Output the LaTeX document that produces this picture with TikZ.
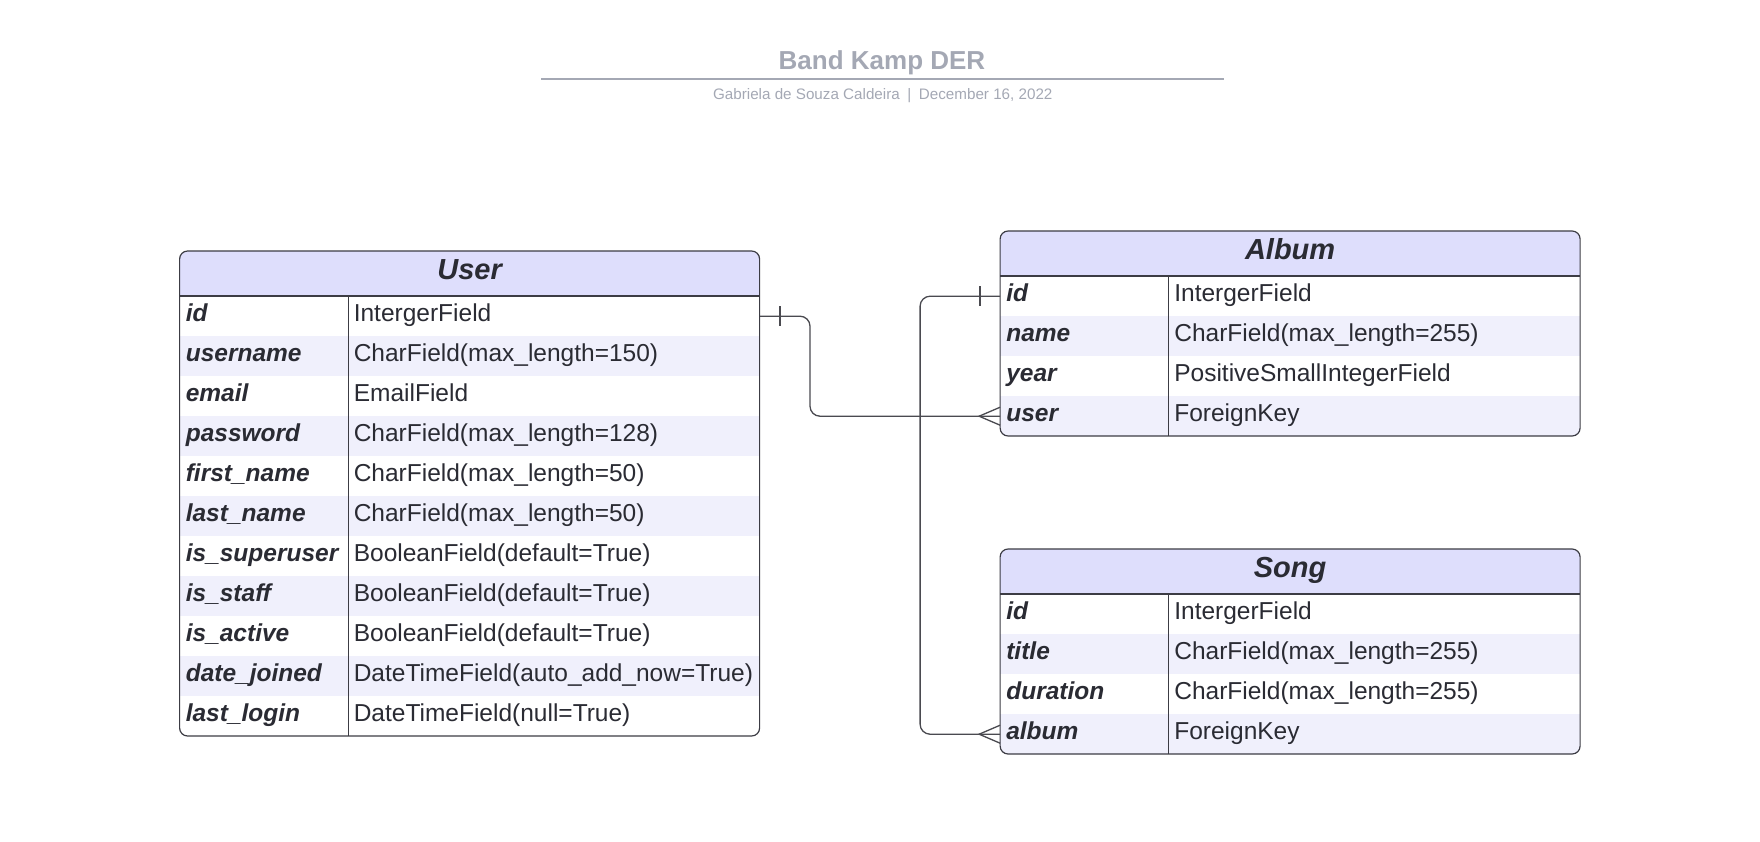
\documentclass[tikz,border=0pt]{standalone}
\usepackage{fontspec}
\setmainfont{Liberation Sans}
\definecolor{hdr}{HTML}{DEDEFC}
\definecolor{rowshade}{HTML}{F0F0FC}
\definecolor{bord}{HTML}{3C3C44}
\definecolor{txt}{HTML}{2A2B33}
\definecolor{ttl}{HTML}{A4A8B4}
\definecolor{connc}{HTML}{4A4A50}
\tikzset{
  fieldname/.style={anchor=base west, inner sep=0pt, font=\fontsize{24.5}{29}\selectfont\bfseries\itshape, text=txt},
  fieldtype/.style={anchor=base west, inner sep=0pt, font=\fontsize{24.5}{29}\selectfont, text=txt},
  tabletitle/.style={anchor=base, inner sep=0pt, font=\fontsize{29}{34}\selectfont\bfseries\itshape, text=txt},
  tableborder/.style={draw=bord, line width=1.2pt, rounded corners=8pt},
  tableline/.style={draw=bord, line width=1.2pt},
  rowbox/.style={inner sep=0pt, minimum width=580pt, minimum height=40pt, anchor=north west},
  connector/.style={draw=connc, line width=1.3pt, rounded corners=10pt},
  mark line/.style={draw=connc, line width=1.3pt},
}
\newcommand{\erdtable}[6]{%
  \pgfmathsetmacro{\tb}{#4+45+40*#5}
  \fill[white, rounded corners=8pt] (#3,#4) rectangle (#3+580,\tb);
  \begin{scope}
    \clip[rounded corners=8pt] (#3,#4) rectangle (#3+580,\tb);
    \fill[hdr] (#3,#4) rectangle (#3+580,#4+45);
    \foreach \a/\b [count=\i] in {#6} {
      \pgfmathsetmacro{\ry}{#4+45+40*(\i-1)}
      \ifodd\i\else \fill[rowshade] (#3,\ry) rectangle (#3+580,\ry+40); \fi
      \node[rowbox] (#1-\i) at (#3,\ry) {};
      \node[fieldname] at ([xshift=6pt,yshift=-5pt]#1-\i.west) {\a};
      \node[fieldtype] at ([xshift=174pt,yshift=-5pt]#1-\i.west) {\b};
    }
  \end{scope}
  \node[tabletitle] (#1) at (#3+290,#4+28.5) {#2};
  \draw[tableborder] (#3,#4) rectangle (#3+580,\tb);
  \draw[tableline] (#3,#4+45) -- (#3+580,#4+45);
  \draw[tableline] (#3+168.5,#4+45) -- (#3+168.5,\tb);
}
\begin{document}
\begin{tikzpicture}[x=1pt,y=-1pt]
\useasboundingbox (0,0) rectangle (1760,841);
\node[anchor=base, inner sep=0pt, font=\fontsize{26}{31}\selectfont\bfseries, text=ttl] (title) at (882,69) {Band Kamp DER};
\draw[draw=ttl, line width=2pt] (541,78.6) -- (1223.5,78.6);
\node[anchor=base, inner sep=0pt, font=\fontsize{15.2}{18}\selectfont, text=ttl] (subtitle) at (882.8,99.5) {Gabriela de Souza Caldeira\enspace|\enspace December 16, 2022};

\erdtable{user}{User}{179.6}{251}{11}{id/IntergerField, username/CharField(max\_length=150), email/EmailField, password/CharField(max\_length=128), first\_name/CharField(max\_length=50), last\_name/CharField(max\_length=50), is\_superuser/BooleanField(default=True), is\_staff/BooleanField(default=True), is\_active/BooleanField(default=True), date\_joined/DateTimeField(auto\_add\_now=True), last\_login/DateTimeField(null=True)}
\erdtable{album}{Album}{1000.1}{231}{4}{id/IntergerField, name/CharField(max\_length=255), year/PositiveSmallIntegerField, user/ForeignKey}
\erdtable{song}{Song}{1000.1}{549}{4}{id/IntergerField, title/CharField(max\_length=255), duration/CharField(max\_length=255), album/ForeignKey}

% User (one) -> Album (many)
\draw[connector] (user-1.east) -- ++(50,0) |- (album-4.west);
\draw[mark line] ([xshift=20pt,yshift=10pt]user-1.east) -- ([xshift=20pt,yshift=-10pt]user-1.east);
\draw[mark line] ([yshift=9pt]album-4.west) -- ([xshift=-21pt]album-4.west) -- ([yshift=-9pt]album-4.west);

% Album (one) -> Song (many)
\draw[connector] (album-1.west) -- ++(-80,0) |- (song-4.west);
\draw[mark line] ([xshift=-20pt,yshift=10pt]album-1.west) -- ([xshift=-20pt,yshift=-10pt]album-1.west);
\draw[mark line] ([yshift=9pt]song-4.west) -- ([xshift=-21pt]song-4.west) -- ([yshift=-9pt]song-4.west);
\end{tikzpicture}
\end{document}
